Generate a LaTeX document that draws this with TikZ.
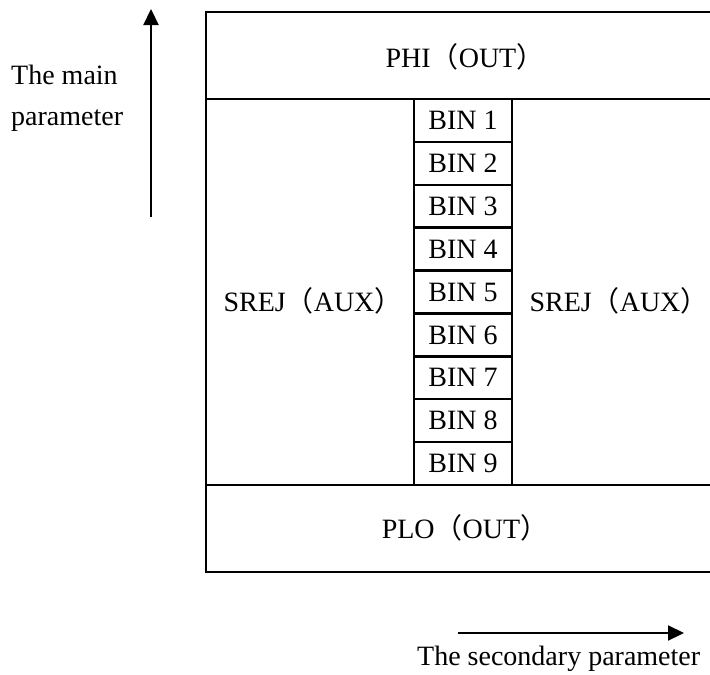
\documentclass[tikz,border=0pt]{standalone}
\usepackage{fontspec}
\setmainfont{Liberation Serif}
\newfontfamily\cjk{Noto Sans CJK SC}
\usetikzlibrary{arrows.meta}
\newcommand\myLP{{\cjk （}}
\newcommand\myRP{{\cjk ）}}
\tikzset{
  boxline/.style={line width=2.4pt},
  lbl/.style={font=\fontsize{28}{32}\selectfont, inner sep=0pt},
  bincell/.style={draw, line width=2.4pt, minimum width=98pt, minimum height=42.89pt, inner sep=0pt, font=\fontsize{28}{32}\selectfont},
  arr/.style={line width=2.2pt, -{Triangle[width=15pt,length=16pt]}}
}
\begin{document}
\begin{tikzpicture}[x=1pt,y=-1pt]
\useasboundingbox (0,0) rectangle (710,675);
% frame
\draw[boxline] (716,12) -- (206,12) -- (206,572) -- (716,572);
\draw[boxline] (206,99) -- (716,99);
\draw[boxline] (206,485) -- (716,485);
% bins
\foreach \i in {1,...,9}{
  \node[bincell] (b\i) at (463,{99+42.89*(\i-0.5)}) {BIN \i};
}
% labels
\node[lbl, anchor=base] (phi) at (465,67) {PHI\myLP OUT\myRP};
\node[lbl, anchor=base] (plo) at (465,538) {PLO\myLP OUT\myRP};
\node[lbl, anchor=base] (srejl) at (313,311.5) {SREJ\myLP AUX\myRP};
\node[lbl, anchor=base] (srejr) at (619,311.5) {SREJ\myLP AUX\myRP};
\node[lbl, anchor=base west] (main1) at (11,84) {The main};
\node[lbl, anchor=base west] (main2) at (11,125) {parameter};
\node[lbl, anchor=base west] (sec) at (417,665.5) {The secondary parameter};
% arrows
\coordinate (va0) at (151,217);
\coordinate (va1) at (151,9);
\coordinate (ha0) at (458,633);
\coordinate (ha1) at (684,633);
\draw[arr] (va0) -- (va1);
\draw[arr] (ha0) -- (ha1);
\end{tikzpicture}
\end{document}
